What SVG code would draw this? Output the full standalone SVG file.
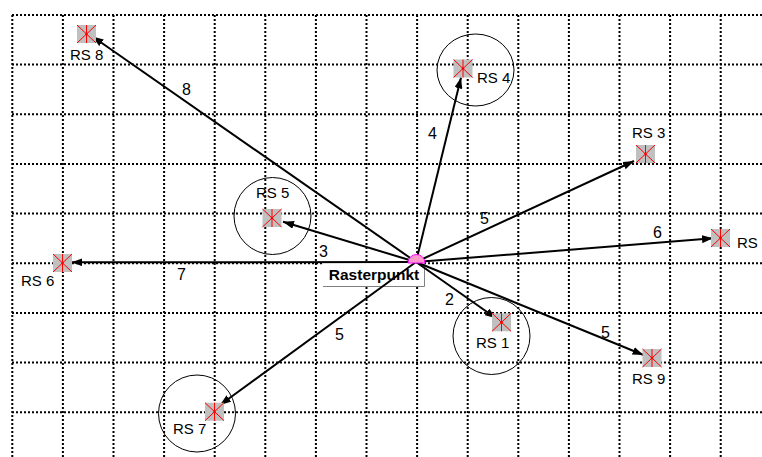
<svg xmlns="http://www.w3.org/2000/svg" xmlns:xlink="http://www.w3.org/1999/xlink" width="762" height="457" viewBox="0 0 762 457">
<style>
.grid{stroke:#000;stroke-width:2;stroke-dasharray:2 2;fill:none}
.ring{fill:none;stroke:#000;stroke-width:1}
.conn{stroke:#000;stroke-width:2;fill:none;marker-end:url(#arr)}
.lbl{font-family:"Liberation Sans",Arial,sans-serif;font-size:15px;fill:#000}
.num{font-family:"Liberation Sans",Arial,sans-serif;font-size:16px;fill:#000}
.title{font-family:"Liberation Sans",Arial,sans-serif;font-size:15.5px;font-weight:bold;fill:#000}
</style>
<defs>
<marker id="arr" markerUnits="userSpaceOnUse" markerWidth="11" markerHeight="8" refX="11" refY="4" orient="auto">
<path d="M0,0 L11,4 L0,8 z" fill="#000"/>
</marker>
<g id="mark">
<rect x="-9.5" y="-9" width="19" height="18" fill="#c0c0c0"/>
<path d="M-9.5,-9 L9.5,9 M9.5,-9 L-9.5,9 M0,-9 L0,9" stroke="#ff0000" stroke-width="1" fill="none"/>
<circle r="1.3" fill="#ff0000"/>
</g>
</defs>
<rect width="762" height="457" fill="#fff"/>
<g id="grid">
<path class="grid" d="M12,15 H762 M12,64.6 H762 M12,114.3 H762 M12,164 H762 M12,213.6 H762 M12,263.2 H762 M12,312.9 H762 M12,362.5 H762 M12,412.2 H762"/>
<path class="grid" d="M12.3,15 V457 M62.9,15 V457 M113.5,15 V457 M164.1,15 V457 M214.7,15 V457 M265.3,15 V457 M315.9,15 V457 M366.5,15 V457 M417.1,15 V457 M467.7,15 V457 M518.3,15 V457 M568.9,15 V457 M619.5,15 V457 M670.1,15 V457 M720.7,15 V457"/>
</g>
<g id="rings">
<ellipse class="ring" cx="475.5" cy="70" rx="38.5" ry="36"/>
<circle class="ring" cx="272.5" cy="216" r="38.5"/>
<circle class="ring" cx="491.5" cy="336" r="38.5"/>
<circle class="ring" cx="197" cy="413.5" r="38.5"/>
</g>
<g id="rasterpunkt">
<rect x="323" y="263" width="101.5" height="23" fill="#fff"/>
<path d="M424.5,263 V286.5 H323" fill="none" stroke="#808080" stroke-width="1"/>
<text class="title" x="374" y="280" text-anchor="middle">Rasterpunkt</text>
</g>
<g id="connectors">
<line class="conn" x1="416" y1="262" x2="92.5" y2="36.5"/>
<line class="conn" x1="416" y1="262" x2="461" y2="77.5"/>
<line class="conn" x1="416" y1="262" x2="634" y2="161"/>
<line class="conn" x1="416" y1="262" x2="713" y2="238.3"/>
<line class="conn" x1="416" y1="262" x2="71.5" y2="262.3"/>
<line class="conn" x1="416" y1="262" x2="283" y2="221.7"/>
<line class="conn" x1="416" y1="262" x2="220" y2="405"/>
<line class="conn" x1="416" y1="262" x2="496" y2="318.3"/>
<line class="conn" x1="416" y1="262" x2="643.5" y2="355"/>
<text class="num" x="182" y="95">8</text>
<text class="num" x="428" y="139">4</text>
<text class="num" x="480" y="224">5</text>
<text class="num" x="653" y="238">6</text>
<text class="num" x="319" y="257">3</text>
<text class="num" x="177" y="280">7</text>
<text class="num" x="445" y="305">2</text>
<text class="num" x="601" y="338">5</text>
<text class="num" x="335" y="340">5</text>
</g>
<g id="center">
<path d="M408,263 A8.5,8.5 0 0 1 425,263 Z" fill="#ff99cc" stroke="#ff00ff" stroke-width="1"/>
</g>
<g id="rs8"><use xlink:href="#mark" x="86.5" y="34"/><text class="lbl" x="70" y="60">RS 8</text></g>
<g id="rs4"><use xlink:href="#mark" x="463" y="68.5"/><text class="lbl" x="477" y="83">RS 4</text></g>
<g id="rs3"><use xlink:href="#mark" x="645.5" y="154"/><text class="lbl" x="632" y="138">RS 3</text></g>
<g id="rs"><use xlink:href="#mark" x="720.5" y="238"/><text class="lbl" x="737" y="248">RS</text></g>
<g id="rs6"><use xlink:href="#mark" x="62.5" y="263"/><text class="lbl" x="21" y="286">RS 6</text></g>
<g id="rs5"><use xlink:href="#mark" x="272" y="218"/><text class="lbl" x="256" y="198">RS 5</text></g>
<g id="rs7"><use xlink:href="#mark" x="214.5" y="411.7"/><text class="lbl" x="173" y="434">RS 7</text></g>
<g id="rs1"><use xlink:href="#mark" x="501.5" y="322.3"/><text class="lbl" x="476" y="348">RS 1</text></g>
<g id="rs9"><use xlink:href="#mark" x="652" y="358"/><text class="lbl" x="632" y="384">RS 9</text></g>
</svg>
